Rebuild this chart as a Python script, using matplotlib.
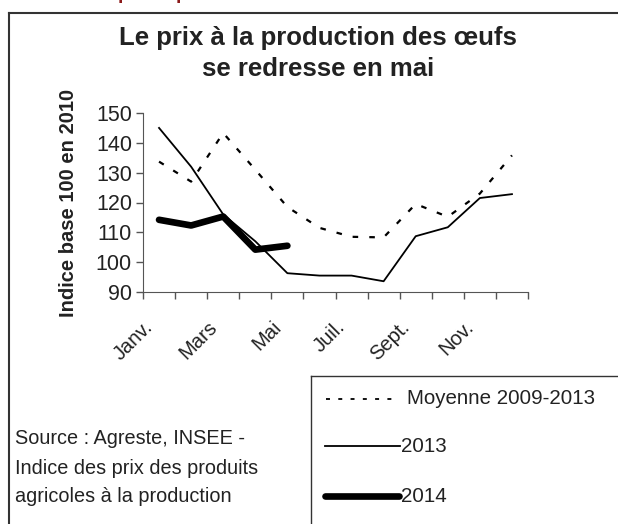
import numpy as np
import matplotlib.pyplot as plt
from matplotlib.lines import Line2D

plt.rcParams['font.family'] = ['Liberation Sans', 'DejaVu Sans']

# data
months = ['Janv.', 'Févr.', 'Mars', 'Avr.', 'Mai', 'Juin',
          'Juil.', 'Août', 'Sept.', 'Oct.', 'Nov.', 'Déc.']
moyenne = [133.7, 127, 143.3, 131, 118.5, 111.5, 108.5, 108.3, 119.5, 115.2, 123, 135.8]
y2013 = [145, 132, 116, 107, 96.3, 95.5, 95.5, 93.6, 108.7, 111.7, 121.5, 122.8]
y2014 = [114.2, 112.3, 115.3, 104.2, 105.5]
yticks = [90, 100, 110, 120, 130, 140, 150]

W, H = 618, 524
fig = plt.figure(figsize=(W / 100, H / 100), dpi=100)
ax = fig.add_axes([143 / W, 1 - 292 / H, (528 - 143) / W, (292 - 113) / H])

x = np.arange(len(months))
ax.plot(x, moyenne, color='black', lw=1.6, ls=(0, (2.5, 5)))
ax.plot(x, y2013, color='black', lw=1.3)
ax.plot(x[:len(y2014)], y2014, color='black', lw=4.8, solid_capstyle='round')

ax.set_xlim(-0.5, len(months) - 0.5)
ax.set_ylim(90, 150)
ax.set_yticks(yticks)
ax.tick_params(axis='y', labelsize=15.5, length=5, width=1, color='#555555', pad=3,
               labelcolor='#222222')
ax.set_xticks(np.arange(-0.5, len(months)))
ax.set_xticklabels([])
ax.tick_params(axis='x', length=5, width=1, color='#555555')
for i in range(0, len(months), 2):
    ax.text(i - 0.5, 81.5, months[i], rotation=45, ha='right', va='top',
            rotation_mode='anchor', fontsize=14.5, color='#222222')
for s in ['top', 'right']:
    ax.spines[s].set_visible(False)
for s in ['left', 'bottom']:
    ax.spines[s].set_color('#555555')

fig.text(68 / W, 1 - 203 / H, 'Indice base 100 en 2010', rotation=90,
         ha='center', va='center', fontsize=14.5, fontweight='bold', color='#222222')
fig.text(318 / W, 1 - 38 / H, 'Le prix à la production des œufs', ha='center', va='center',
         fontsize=18.5, fontweight='bold', color='#222222')
fig.text(318 / W, 1 - 69 / H, 'se redresse en mai', ha='center', va='center',
         fontsize=18.5, fontweight='bold', color='#222222')

# cut-off red heading at the top edge
fig.text(124 / W, 1 + 1 / H, 'p', color='#8b1a1a', fontsize=14, fontweight='bold', ha='center', va='baseline')
fig.text(182 / W, 1 + 1 / H, 'p', color='#8b1a1a', fontsize=14, fontweight='bold', ha='center', va='baseline')

# outer frame
fig.add_artist(Line2D([9 / W, 9 / W], [0, 1 - 13 / H], transform=fig.transFigure, color='#333333', lw=1.5))
fig.add_artist(Line2D([9 / W, 1], [1 - 13 / H, 1 - 13 / H], transform=fig.transFigure, color='#333333', lw=1.5))

# legend box
fig.add_artist(Line2D([311 / W, 311 / W], [0, 1 - 376 / H], transform=fig.transFigure, color='#333333', lw=1))
fig.add_artist(Line2D([311 / W, 1], [1 - 376 / H, 1 - 376 / H], transform=fig.transFigure, color='#333333', lw=1))
fig.add_artist(Line2D([326 / W, 398 / W], [1 - 399 / H] * 2, transform=fig.transFigure,
                      color='black', lw=1.3, ls=(0, (2.2, 4.6))))
fig.text(407 / W, 1 - 399 / H, 'Moyenne 2009-2013', va='center', fontsize=14.8, color='#222222')
fig.add_artist(Line2D([325 / W, 400 / W], [1 - 446 / H] * 2, transform=fig.transFigure, color='black', lw=1.3))
fig.text(401 / W, 1 - 446 / H, '2013', va='center', fontsize=14.8, color='#222222')
fig.add_artist(Line2D([325 / W, 399 / W], [1 - 496 / H] * 2, transform=fig.transFigure, color='black', lw=4.8,
                      solid_capstyle='round'))
fig.text(401 / W, 1 - 496 / H, '2014', va='center', fontsize=14.8, color='#222222')

fig.text(15 / W, 1 - 438 / H, 'Source : Agreste, INSEE -', va='center', fontsize=14.3, color='#222222')
fig.text(15 / W, 1 - 469 / H, 'Indice des prix des produits', va='center', fontsize=14.3, color='#222222')
fig.text(15 / W, 1 - 496 / H, 'agricoles à la production', va='center', fontsize=14.3, color='#222222')

fig.savefig('out.png', dpi=100)
